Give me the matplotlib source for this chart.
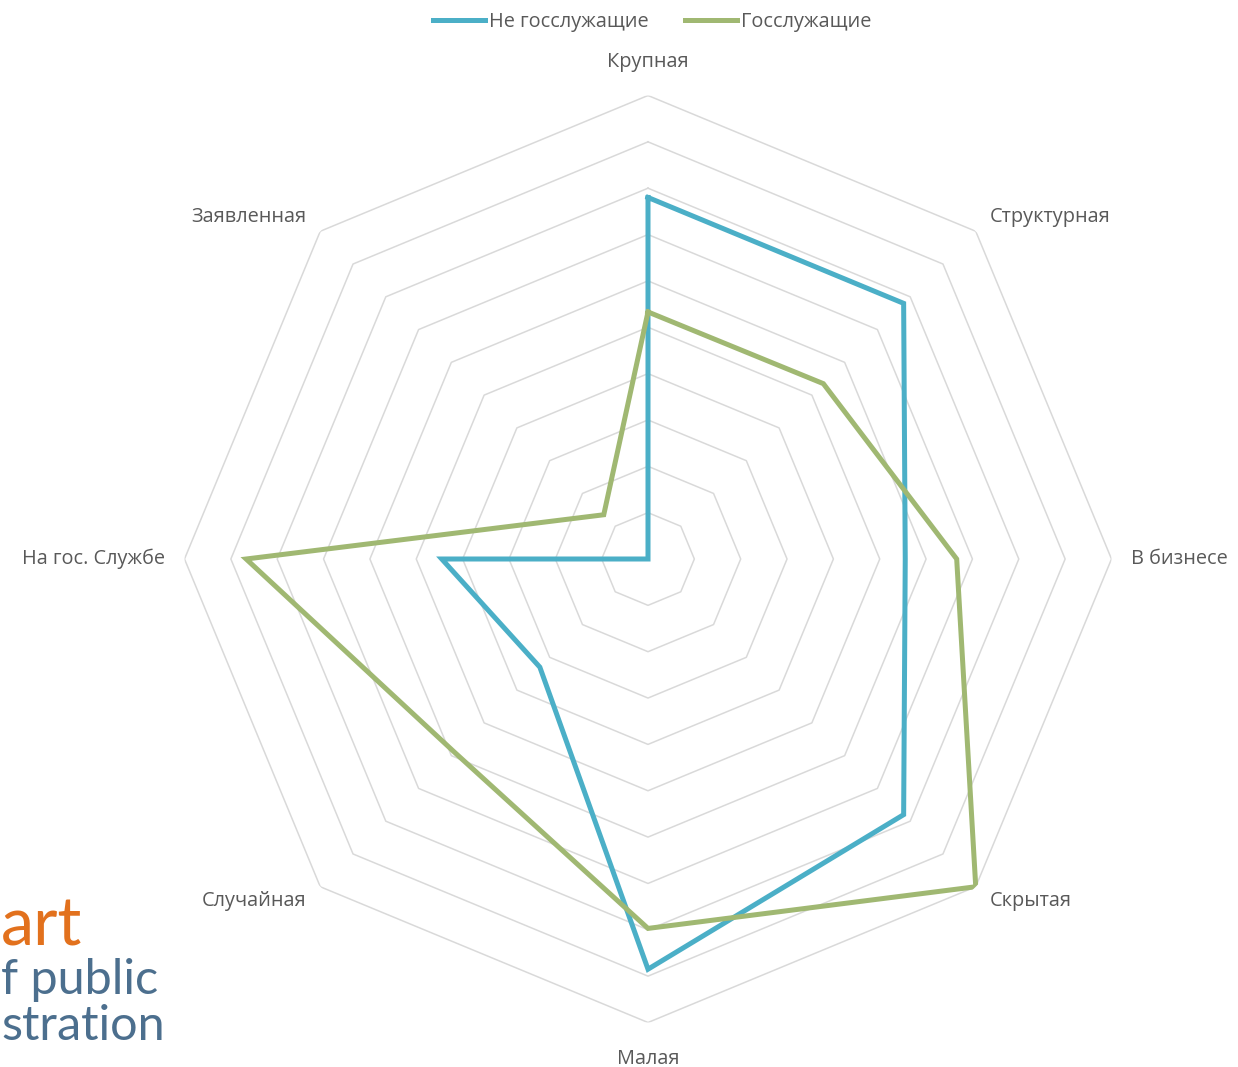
import matplotlib.pyplot as plt
import numpy as np

# Данные диаграммы
categories = ['Крупная', 'Структурная', 'В бизнесе', 'Скрытая',
              'Малая', 'Случайная', 'На гос. Службе', 'Заявленная']
ne_gos = [7.8, 7.8, 5.55, 7.8, 8.85, 3.3, 4.45, 0.0]
gos = [5.33, 5.35, 6.66, 10.0, 7.97, 5.9, 8.67, 1.35]
series_names = ['Не госслужащие', 'Госслужащие']
colors = ['#4BAFC7', '#A0B872']

plt.rcParams['font.family'] = ['Open Sans', 'DejaVu Sans']

W, H = 1238, 1067
cx, cy, R = 648, 559, 463.5
fig = plt.figure(figsize=(W / 100, H / 100), dpi=100)
ax = fig.add_axes([(cx - R) / W, (H - cy - R) / H, 2 * R / W, 2 * R / H],
                  projection='polar')
ax.set_theta_offset(np.pi / 2)
ax.set_theta_direction(-1)
ax.set_ylim(0, 10)
ax.grid(False)
ax.set_xticks([])
ax.set_yticks([])
ax.spines['polar'].set_visible(False)
ax.patch.set_alpha(0)

n = len(categories)
angles = np.arange(n) * 2 * np.pi / n
closed = np.append(angles, angles[0])

# сетка в виде восьмиугольников
for r in range(1, 11):
    ax.plot(closed, [r] * (n + 1), color='#D9D9D9', lw=1.1, zorder=1)

for vals, name, c in zip([ne_gos, gos], series_names, colors):
    ax.plot(closed, vals + vals[:1], color=c, lw=3.6, label=name,
            solid_joinstyle='miter', zorder=3)

# подписи категорий
label_pos = [
    (10.72, 'center', 'center'),
    (10.42, 'left', 'center'),
    (10.42, 'left', 'center'),
    (10.42, 'left', 'center'),
    (10.78, 'center', 'center'),
    (10.42, 'right', 'center'),
    (10.42, 'right', 'center'),
    (10.42, 'right', 'center'),
]
for ang, cat, (r, ha, va) in zip(angles, categories, label_pos):
    ax.text(ang, r, cat, ha=ha, va=va, fontsize=14.3, color='#595959',
            clip_on=False)

fig.legend(loc='center', bbox_to_anchor=(652 / W, 1 - 22 / H), ncol=2,
           frameon=False, fontsize=14.3, handlelength=2.65,
           handletextpad=0.2, columnspacing=1.8, labelcolor='#595959',
           borderpad=0)

# логотип (виден только край)
fig.text(1 / W, 1 - 945 / H, 'art', ha='left', va='baseline',
         fontsize=48, color='#E2711D', family='Lato')
fig.text(1 / W, 1 - 994 / H, 'f public', ha='left', va='baseline',
         fontsize=35, color='#4C6F8E', family='Lato')
fig.text(1 / W, 1 - 1040 / H, 'stration', ha='left', va='baseline',
         fontsize=35, color='#4C6F8E', family='Lato')

fig.savefig('out.png', dpi=100)
